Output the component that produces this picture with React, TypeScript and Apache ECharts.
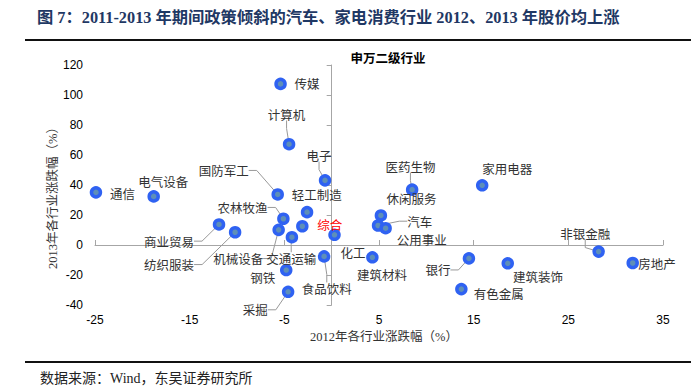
import React, { useEffect, useRef } from 'react';
import * as echarts from 'echarts';

// 申万一级行业：2012 年与 2013 年涨跌幅（%）
const industries = [
  '通信', '电气设备', '传媒', '计算机', '电子', '国防军工', '轻工制造', '农林牧渔',
  '商业贸易', '纺织服装', '机械设备', '交通运输', '化工', '综合', '食品饮料', '钢铁',
  '采掘', '建筑材料', '休闲服务', '汽车', '公用事业', '医药生物', '家用电器', '银行',
  '有色金属', '建筑装饰', '非银金融', '房地产',
];
const return2012 = [
  -24.9, -18.8, -5.4, -4.5, -0.7, -5.7, -2.6, -5.1,
  -11.9, -10.2, -5.6, -4.2, -3.1, 0.3, -0.8, -4.8,
  -4.6, 4.3, 5.2, 4.9, 5.7, 8.5, 15.9, 14.5,
  13.7, 18.6, 28.2, 31.8,
];
const return2013 = [
  35.1, 32.4, 107.4, 67.2, 43.1, 33.7, 21.9, 17.5,
  13.7, 8.5, 10.1, 5.2, 12.5, 6.8, -7.6, -16.7,
  -31.2, -8.2, 19.7, 13.0, 11.2, 36.9, 39.8, -8.9,
  -29.4, -12.2, -4.4, -12.0,
];
const xTickLabels = [-25, -15, -5, 5, 15, 25, 35];
const yMin = -40;
const yMax = 120;
const yStep = 20;
const highlighted = '综合';

// label placement (pixel offsets from the marker) and leader-line flags
const labelOffsets: [number, number][] = [
  [26.5, 1], [9.5, -15.3], [26.5, 0], [-2.5, -30], [-6, -25], [-54, -24], [9.8, -17.7], [-40.8, -11.3],
  [-50, 16.7], [-66, 32.3], [-40.5, 28.7], [-0.7, 21.3], [50.7, 26.3], [-4.8, -10.3], [2.7, 32.3], [-23.5, 7.7],
  [-32.8, 18], [9.7, 17.3], [30.7, -16.7], [41.7, -4.3], [36, 11.3], [-1.7, -23.3], [25, -16.7], [-31, 11.6],
  [37.3, 4.4], [30.3, 13.3], [-13.4, -18.3], [24.3, 0],
];
const leaderLines = [
  false, false, false, true, true, true, false, true,
  true, true, true, true, false, false, true, false,
  true, false, false, true, false, true, false, true,
  false, false, true, false,
];

const TITLE = '图 7：2011-2013 年期间政策倾斜的汽车、家电消费行业 2012、2013 年股价均上涨';
const CHART_TITLE = '申万二级行业';
const X_NAME = '2012年各行业涨跌幅（%）';
const Y_NAME = '2013年各行业涨跌幅（%）';
const SOURCE = '数据来源：Wind，东吴证券研究所';

const SERIF = "'Liberation Serif', 'Noto Sans CJK SC', serif";
const SANS = "'Noto Sans CJK SC', 'Liberation Sans', sans-serif";
const AXIS_GRAY = '#A6A6A6';

export default function App() {
  const ref = useRef<HTMLDivElement>(null);

  useEffect(() => {
    if (!ref.current) return;
    const chart = echarts.init(ref.current, undefined, { renderer: 'svg' });

    const data = industries.map((name, i) => ({
      name,
      value: [return2012[i], return2013[i]],
      labelLine: { show: leaderLines[i] },
      label: name === highlighted ? { color: '#FF0000' } : undefined,
    }));

    chart.setOption({
      animation: false,
      backgroundColor: '#fff',
      grid: { left: 95, right: 28, top: 65, bottom: 85, containLabel: false },
      xAxis: [
        {
          type: 'value', min: -25, max: 35, position: 'bottom',
          axisLine: { show: false, onZero: false },
          axisTick: { show: false },
          splitLine: { show: false },
          axisLabel: {
            customValues: xTickLabels, margin: 9, fontSize: 12, color: '#000',
            fontFamily: "'Liberation Sans', Arial, sans-serif",
          },
        },
        {
          type: 'value', min: -25, max: 35, position: 'bottom',
          axisLine: { show: true, onZero: true, onZeroAxisIndex: 0, lineStyle: { color: AXIS_GRAY, width: 1 } },
          axisTick: { show: true, inside: true, length: 5, customValues: xTickLabels, lineStyle: { color: AXIS_GRAY } },
          axisLabel: { show: false },
          splitLine: { show: false },
        },
      ],
      yAxis: [
        {
          type: 'value', min: yMin, max: yMax, interval: yStep, position: 'left',
          axisLine: { show: false, onZero: false },
          axisTick: { show: false },
          splitLine: { show: false },
          axisLabel: {
            margin: 12, fontSize: 12, color: '#000',
            fontFamily: "'Liberation Sans', Arial, sans-serif",
          },
        },
        {
          type: 'value', min: yMin, max: yMax, interval: yStep, position: 'left',
          axisLine: { show: true, onZero: true, onZeroAxisIndex: 0, lineStyle: { color: AXIS_GRAY, width: 1 } },
          axisTick: { show: true, inside: false, length: 5, lineStyle: { color: AXIS_GRAY } },
          axisLabel: { show: false },
          splitLine: { show: false },
        },
      ],
      series: [
        {
          type: 'scatter',
          xAxisIndex: 0,
          yAxisIndex: 0,
          symbolSize: 9,
          itemStyle: { color: '#5E8FB8', borderColor: '#2F62F2', borderWidth: 3.5, opacity: 1 },
          label: {
            show: true, position: 'inside', formatter: '{b}',
            fontSize: 12.5, color: '#333', fontFamily: SANS,
          },
          labelLine: { show: false, length2: 8, lineStyle: { color: '#999', width: 1 } },
          labelLayout: (p: any) => ({
            dx: labelOffsets[p.dataIndex][0],
            dy: labelOffsets[p.dataIndex][1],
          }),
          emphasis: { disabled: true },
          data,
          z: 3,
        },
      ],
      graphic: [
        {
          type: 'text', x: 37, y: 17,
          style: {
            text: TITLE, fontSize: 16.3, fontWeight: 'bold', fontFamily: SERIF,
            fill: '#1F3864', verticalAlign: 'middle', textAlign: 'left',
          },
        },
        { type: 'line', shape: { x1: 25, y1: 40, x2: 691, y2: 40 }, style: { stroke: '#111', lineWidth: 2 } },
        {
          type: 'text', x: 388, y: 57,
          style: {
            text: CHART_TITLE, fontSize: 12.5, fontWeight: 'bold', fontFamily: SANS,
            fill: '#000', textAlign: 'center', verticalAlign: 'middle',
          },
        },
        {
          type: 'text', x: 53, y: 195, rotation: Math.PI / 2,
          style: {
            text: Y_NAME, fontSize: 12.5, fontFamily: SERIF, fill: '#333',
            textAlign: 'center', verticalAlign: 'middle',
          },
        },
        {
          type: 'text', x: 384, y: 337,
          style: {
            text: X_NAME, fontSize: 12.5, fontFamily: SERIF, fill: '#333',
            textAlign: 'center', verticalAlign: 'middle',
          },
        },
        { type: 'line', shape: { x1: 25, y1: 362, x2: 691, y2: 362 }, style: { stroke: '#111', lineWidth: 2 } },
        {
          type: 'text', x: 40, y: 378,
          style: {
            text: SOURCE, fontSize: 14, fontFamily: SERIF, fill: '#222',
            textAlign: 'left', verticalAlign: 'middle',
          },
        },
      ],
    });

    return () => chart.dispose();
  }, []);

  return (
    <div
      ref={ref}
      style={{ position: 'fixed', left: 0, top: 0, width: 691, height: 390, background: '#fff' }}
    />
  );
}
